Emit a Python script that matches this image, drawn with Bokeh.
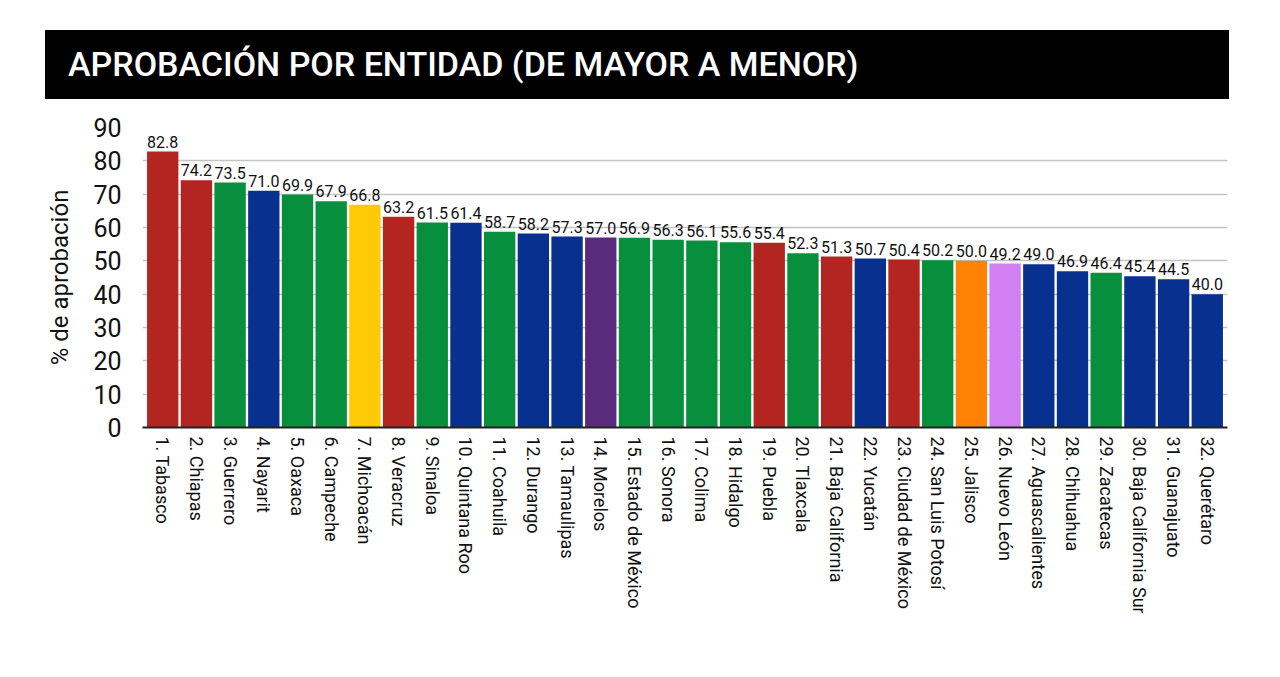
from bokeh.plotting import figure
from bokeh.models import ColumnDataSource, FactorRange, FixedTicker, Div
from bokeh.layouts import column
from bokeh.core.properties import value
from bokeh.embed import file_html
from bokeh.resources import INLINE

states = ["1. Tabasco", "2. Chiapas", "3. Guerrero", "4. Nayarit", "5. Oaxaca",
          "6. Campeche", "7. Michoacán", "8. Veracruz", "9. Sinaloa", "10. Quintana Roo",
          "11. Coahuila", "12. Durango", "13. Tamaulipas", "14. Morelos",
          "15. Estado de México", "16. Sonora", "17. Colima", "18. Hidalgo",
          "19. Puebla", "20. Tlaxcala", "21. Baja California", "22. Yucatán",
          "23. Ciudad de México", "24. San Luis Potosí", "25. Jalisco",
          "26. Nuevo León", "27. Aguascalientes", "28. Chihuahua", "29. Zacatecas",
          "30. Baja California Sur", "31. Guanajuato", "32. Querétaro"]
approval = [82.8, 74.2, 73.5, 71.0, 69.9, 67.9, 66.8, 63.2, 61.5, 61.4,
            58.7, 58.2, 57.3, 57.0, 56.9, 56.3, 56.1, 55.6, 55.4, 52.3,
            51.3, 50.7, 50.4, 50.2, 50.0, 49.2, 49.0, 46.9, 46.4, 45.4,
            44.5, 40.0]
party = ["red", "red", "green", "blue", "green", "green", "yellow", "red", "green", "blue",
         "green", "blue", "blue", "purple", "green", "green", "green", "green", "red", "green",
         "red", "blue", "red", "green", "orange", "lilac", "blue", "blue", "green", "blue",
         "blue", "blue"]
y_ticks = [0, 10, 20, 30, 40, 50, 60, 70, 80, 90]

palette = {"red": "#b32520", "green": "#078f3e", "blue": "#08318f", "yellow": "#ffc905",
           "purple": "#5a2a7d", "orange": "#ff8205", "lilac": "#d17ff2"}

FONT = "Roboto"

src = ColumnDataSource(dict(
    state=states,
    val=approval,
    color=[palette[c] for c in party],
    txt=["%.1f" % v for v in approval],
))

title = Div(
    text='<div style="background:#000;color:#fff;width:1184px;height:69px;'
         'line-height:69px;padding-left:23px;box-sizing:border-box;'
         'font-family:Roboto;font-weight:500;font-size:34px;white-space:nowrap;">'
         'APROBACIÓN POR ENTIDAD (DE MAYOR A MENOR)</div>',
    width=1184, height=69, margin=(30, 0, 0, 45),
)

p = figure(
    x_range=FactorRange(*states, range_padding=0.1, range_padding_units="absolute"),
    y_range=(0, 90),
    frame_width=1085, frame_height=300,
    output_backend="svg", toolbar_location=None,
    min_border_left=142, min_border_right=45, min_border_top=28, min_border_bottom=4,
)
p.vbar(x="state", top="val", width=0.93, color="color", line_color=None, source=src)
p.text(x="state", y="val", text="txt", source=src,
       text_font=value(FONT), text_font_size="16px", text_color="#111111",
       text_align="center", text_baseline="bottom", y_offset=-4)

p.outline_line_color = None
p.background_fill_color = "white"
p.border_fill_color = "white"

p.xgrid.grid_line_color = None
p.ygrid.grid_line_color = "#c4c4c4"
p.ygrid.grid_line_width = 1.5
p.ygrid.ticker = FixedTicker(ticks=y_ticks)

p.yaxis.ticker = FixedTicker(ticks=y_ticks)
p.yaxis.axis_line_color = None
p.yaxis.major_tick_line_color = None
p.yaxis.minor_tick_line_color = None
p.yaxis.major_tick_out = 0
p.yaxis.major_label_standoff = 21
p.yaxis.major_label_text_font = FONT
p.yaxis.major_label_text_font_size = "25px"
p.yaxis.major_label_text_color = "#111111"
p.yaxis.axis_label = "% de aprobación"
p.yaxis.axis_label_text_font = FONT
p.yaxis.axis_label_text_font_size = "24px"
p.yaxis.axis_label_text_font_style = "normal"
p.yaxis.axis_label_text_color = "#111111"
p.yaxis.axis_label_standoff = 16

p.xaxis.axis_line_color = "#222222"
p.xaxis.axis_line_width = 2
p.xaxis.major_tick_line_color = None
p.xaxis.minor_tick_line_color = None
p.xaxis.major_tick_out = 0
p.xaxis.major_label_standoff = 9
p.xaxis.major_label_orientation = "vertical"
p.xaxis.major_label_text_font = FONT
p.xaxis.major_label_text_font_size = "18px"
p.xaxis.major_label_text_color = "#111111"

layout = column(title, p, spacing=0)
open("out.html", "w").write(file_html(layout, INLINE))
